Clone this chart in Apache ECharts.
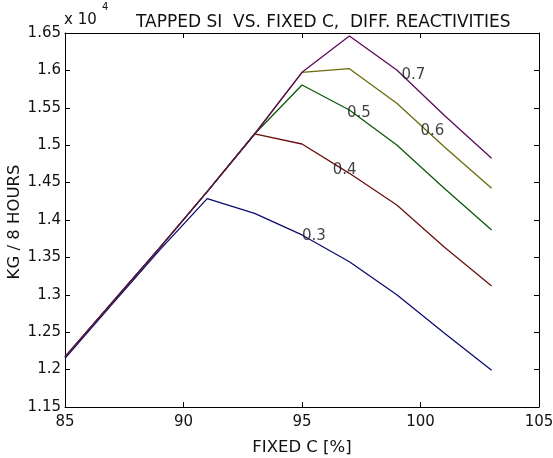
<!DOCTYPE html>
<html><head><meta charset="utf-8">
<script src="https://cdn.jsdelivr.net/npm/echarts@6/dist/echarts.min.js"></script>
<style>html,body{margin:0;padding:0;background:#fff}#c{width:553px;height:458px}</style>
</head><body><div id="c"></div>
<script>
var xValues = [85, 87, 89, 91, 93, 95, 97, 99, 101, 103];
var r03 = [12150, 12880, 13600, 14285, 14089, 13800, 13442, 13000, 12490, 11990];
var r04 = [12170, 12900, 13630, 14380, 15150, 15016, 14624, 14200, 13640, 13117];
var r05 = [12170, 12900, 13630, 14380, 15150, 15805, 15471, 15003, 14424, 13866];
var r06 = [12170, 12900, 13630, 14380, 15150, 15974, 16023, 15560, 14980, 14423];
var r07 = [12170, 12900, 13630, 14380, 15150, 15974, 16460, 16005, 15400, 14825];
var seriesNames = ['0.3', '0.4', '0.5', '0.6', '0.7'];
var labelX = [95.0, 96.3, 96.9, 100.0, 99.2];
var labelY = [13780, 14670, 15430, 15190, 15940];
var xTicks = [85, 90, 95, 100, 105];
var yTicks = ['1.15','1.2','1.25','1.3','1.35','1.4','1.45','1.5','1.55','1.6','1.65'];

var colors = ['#0c0c6e', '#6a1010', '#0a5a0a', '#6a6a0a', '#5a0a5a'];
var allSeries = [r03, r04, r05, r06, r07];
var FONT = 'DejaVu Sans, sans-serif';

var series = allSeries.map(function (arr, i) {
  return {
    name: seriesNames[i], type: 'line', symbol: 'none',
    lineStyle: {color: colors[i], width: 1.3},
    data: xValues.map(function (x, j) { return [x, arr[j]]; }),
    z: 2 + i
  };
});
series.push({
  type: 'scatter', symbolSize: 0, z: 10,
  data: labelX.map(function (x, i) { return {value: [x, labelY[i]], name: seriesNames[i]}; }),
  label: {show: true, position: 'right', distance: 0, formatter: '{b}',
          color: '#111', fontSize: 15, fontFamily: FONT}
});

var baseAxisLine = {show: true, lineStyle: {color: '#000', width: 1}};
var chart = echarts.init(document.getElementById('c'), null, {renderer: 'canvas'});
chart.setOption({
  animation: false,
  backgroundColor: '#fff',
  grid: {left: 65, right: 14, top: 33, bottom: 51, containLabel: false, outerBoundsMode: 'none'},
  title: {text: 'TAPPED SI  VS. FIXED C,  DIFF. REACTIVITIES', left: 131, top: 9,
          textStyle: {fontSize: 17, fontWeight: 'normal', color: '#111', fontFamily: FONT}},
  graphic: [{type: 'text', left: 64, top: 13,
    style: {text: 'x 10', fill: '#111', font: '15px ' + FONT}},
    {type: 'text', left: 102, top: 2,
    style: {text: '4', fill: '#111', font: '10px ' + FONT}},
    {type: 'text', x: 15, y: 222, rotation: Math.PI / 2,
    style: {text: 'KG / 8 HOURS', fill: '#111', font: '16.5px ' + FONT,
            textAlign: 'center', textVerticalAlign: 'middle'}}],
  xAxis: [{
    type: 'value', min: 85, max: 105, interval: 5, position: 'bottom',
    name: 'FIXED C [%]', nameLocation: 'middle', nameGap: 32,
    nameTextStyle: {fontSize: 16.5, color: '#111', fontFamily: FONT},
    axisLine: baseAxisLine, axisTick: {inside: true, length: 5, lineStyle: {color: '#000'}},
    axisLabel: {fontSize: 15, color: '#111', fontFamily: FONT, margin: 8},
    splitLine: {show: false}
  }, {
    type: 'value', min: 85, max: 105, interval: 5, position: 'top',
    axisLine: baseAxisLine, axisTick: {inside: true, length: 5, lineStyle: {color: '#000'}},
    axisLabel: {show: false}, splitLine: {show: false}
  }],
  yAxis: [{
    type: 'value', min: 11500, max: 16500, interval: 500, position: 'left',
    axisLine: baseAxisLine, axisTick: {inside: true, length: 5, lineStyle: {color: '#000'}},
    axisLabel: {fontSize: 15, color: '#111', fontFamily: FONT, margin: 4,
      formatter: function (v) { return yTicks[Math.round((v - 11500) / 500)]; }},
    splitLine: {show: false}
  }, {
    type: 'value', min: 11500, max: 16500, interval: 500, position: 'right',
    axisLine: baseAxisLine, axisTick: {inside: true, length: 5, lineStyle: {color: '#000'}},
    axisLabel: {show: false}, splitLine: {show: false}
  }],
  series: series
});
</script></body></html>
